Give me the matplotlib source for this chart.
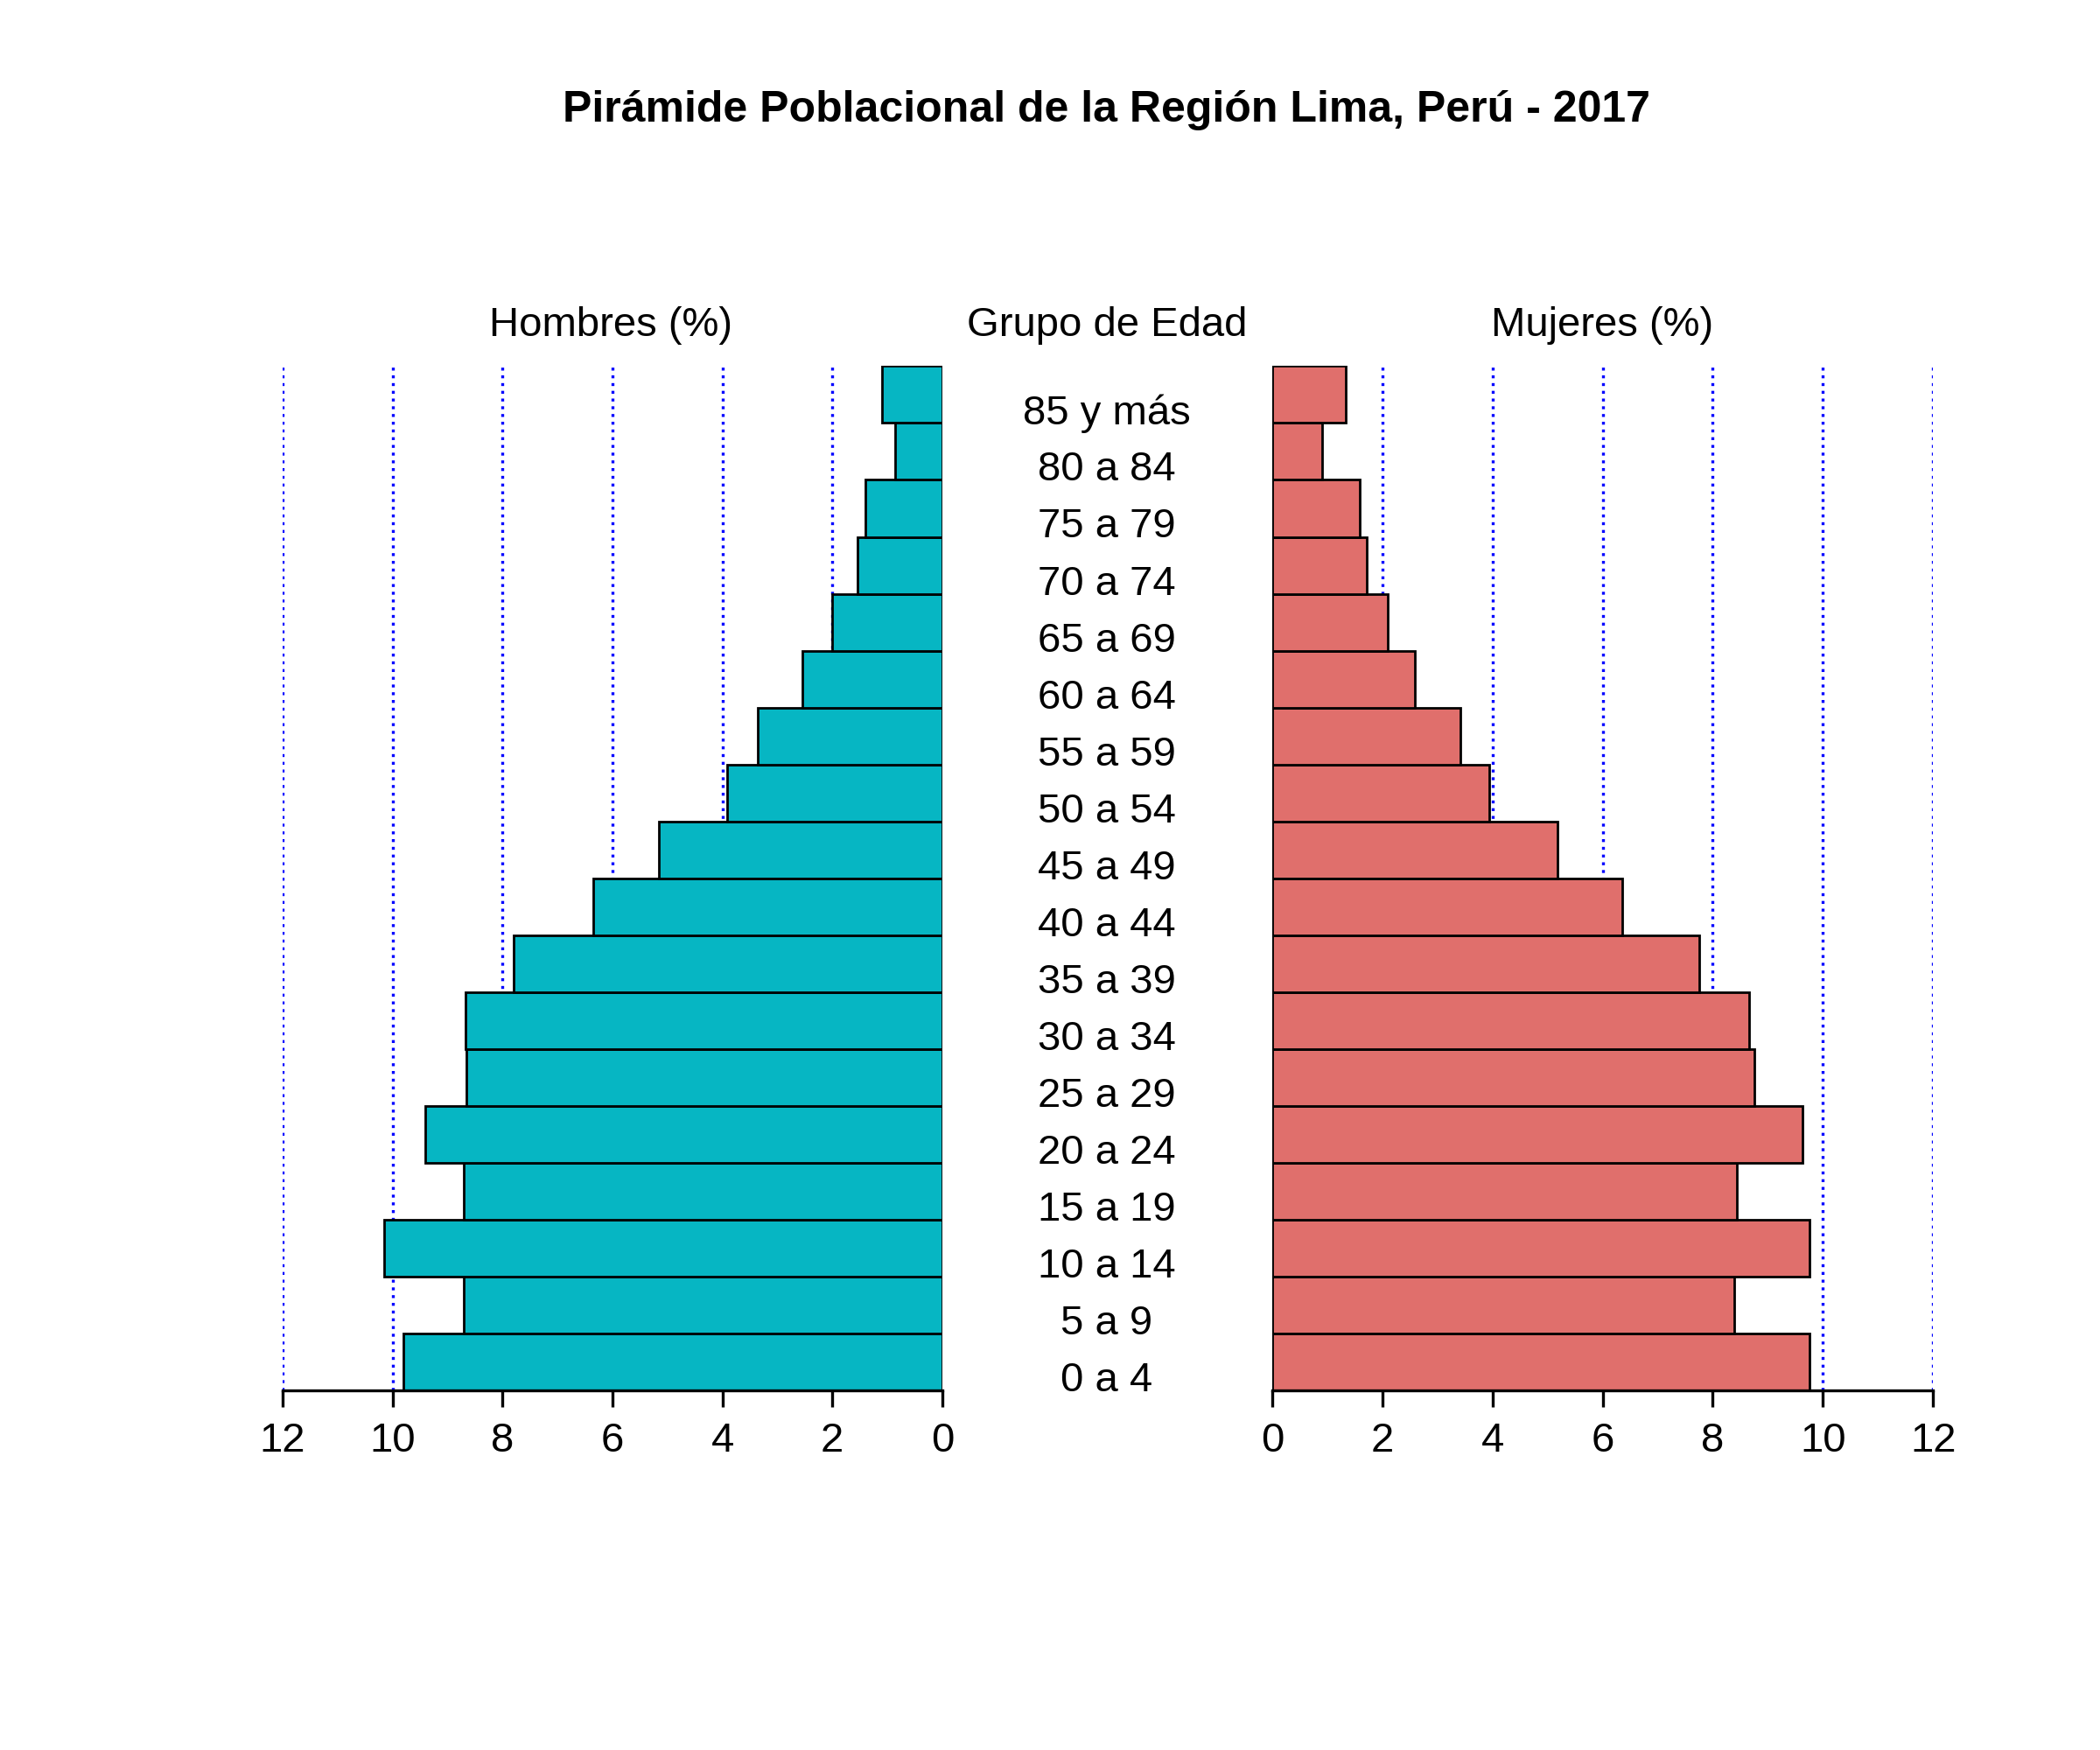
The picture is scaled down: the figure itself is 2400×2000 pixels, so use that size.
import matplotlib
matplotlib.use("Agg")
import matplotlib.pyplot as plt
import matplotlib.transforms as mtransforms

plt.rcParams['font.family'] = ['Liberation Sans', 'DejaVu Sans']

grupos = ["0 a 4", "5 a 9", "10 a 14", "15 a 19", "20 a 24", "25 a 29", "30 a 34",
          "35 a 39", "40 a 44", "45 a 49", "50 a 54", "55 a 59", "60 a 64",
          "65 a 69", "70 a 74", "75 a 79", "80 a 84", "85 y más"]
hombres = [9.8, 8.7, 10.15, 8.7, 9.4, 8.65, 8.68, 7.8, 6.35, 5.15, 3.92, 3.36,
           2.55, 2.0, 1.55, 1.4, 0.86, 1.1]
mujeres = [9.76, 8.39, 9.76, 8.44, 9.63, 8.75, 8.66, 7.75, 6.36, 5.18, 3.94, 3.42,
           2.59, 2.1, 1.71, 1.59, 0.9, 1.34]
ticks = [0, 2, 4, 6, 8, 10, 12]

fig = plt.figure(figsize=(12, 10), dpi=200)
bottom, height = 0.2054, 0.5854
axL = fig.add_axes([0.1346, bottom, 0.3141, height])
axR = fig.add_axes([0.6058, bottom, 0.3147, height])

ypos = [i + 0.5 for i in range(len(grupos))]
for ax, vals, color in [(axL, hombres, '#06B6C3'), (axR, mujeres, '#E06F6C')]:
    for t in ticks[1:]:
        ax.axvline(t, color='blue', linestyle=':', linewidth=1.2, zorder=0)
    ax.barh(ypos, vals, height=1.0, color=color, edgecolor='black', linewidth=1.0, zorder=2)
    ax.set_xlim(0, 12)
    ax.set_ylim(0, 18)
    ax.set_xticks(ticks)
    ax.set_xticklabels([str(t) for t in ticks], fontsize=17)
    ax.set_yticks([])
    for s in ['top', 'left', 'right']:
        ax.spines[s].set_visible(False)
    ax.spines['bottom'].set_linewidth(1.2)
    ax.tick_params(axis='x', length=7, width=1.2, pad=6)
axL.invert_xaxis()

trans = mtransforms.blended_transform_factory(axL.transAxes, axL.transData)
for y, g in zip(ypos, grupos):
    axL.text(1.249, y - 0.33, g, transform=trans, ha='center', va='center', fontsize=17, clip_on=False)

fig.text(0.291, 0.814, "Hombres (%)", ha='center', va='center', fontsize=17)
fig.text(0.527, 0.814, "Grupo de Edad", ha='center', va='center', fontsize=17)
fig.text(0.763, 0.814, "Mujeres (%)", ha='center', va='center', fontsize=17)
fig.text(0.527, 0.937, "Pirámide Poblacional de la Región Lima, Perú - 2017",
         ha='center', va='center', fontsize=18, fontweight='bold')

fig.savefig("out.png", dpi=200, facecolor='white')
